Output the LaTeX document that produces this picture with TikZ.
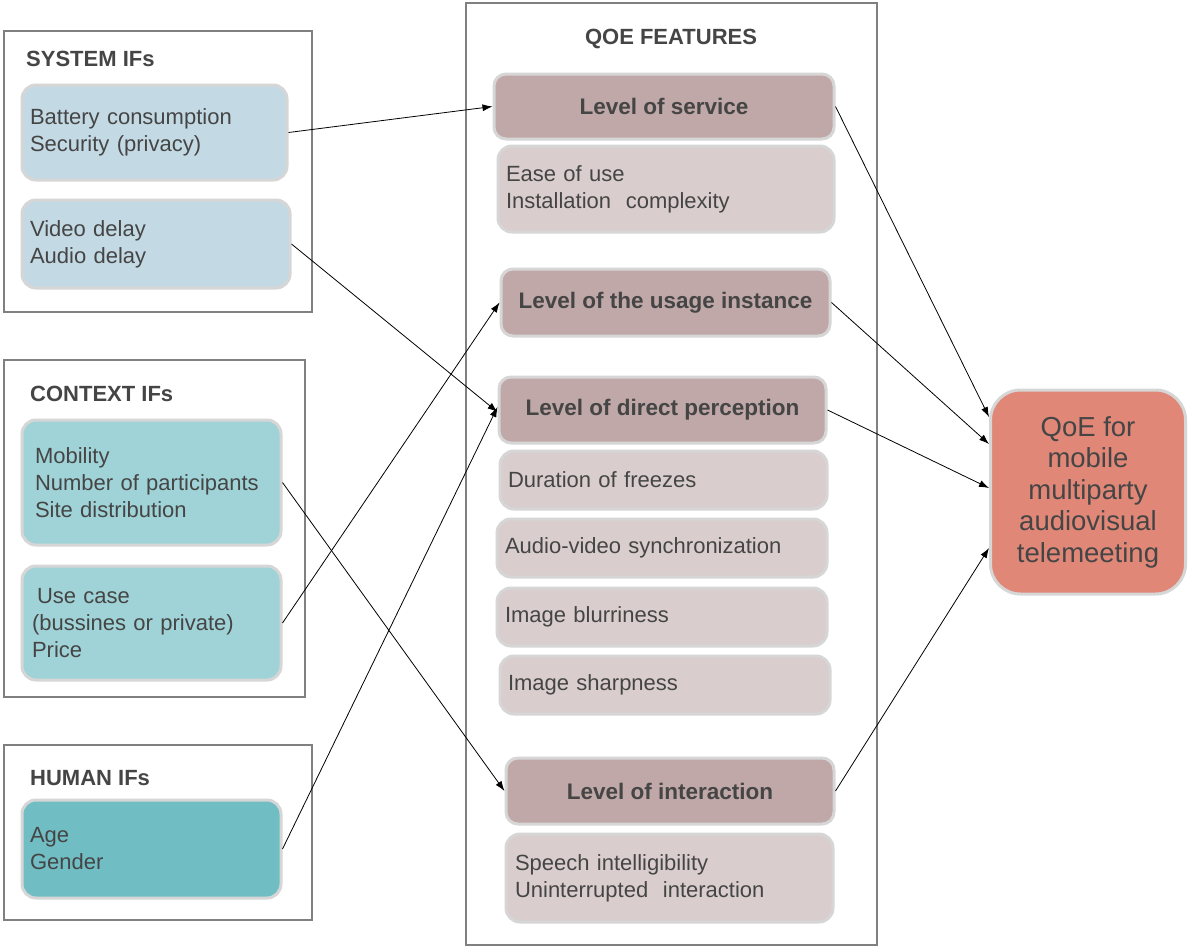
\documentclass[tikz,border=0pt]{standalone}
\usepackage{fontspec}
\setmainfont{Liberation Sans}
\usetikzlibrary{arrows.meta,calc}
\definecolor{sysblue}{HTML}{C3D9E4}
\definecolor{ctxteal}{HTML}{A0D3D7}
\definecolor{humteal}{HTML}{70BEC4}
\definecolor{darkmauve}{HTML}{BFA8A7}
\definecolor{lightmauve}{HTML}{D9CDCD}
\definecolor{qoesalmon}{HTML}{E08778}
\definecolor{ibord}{HTML}{D6D6D6}
\definecolor{obord}{HTML}{808080}
\definecolor{txt}{HTML}{454545}
\tikzset{
  outerbox/.style={draw=obord, line width=2pt, rectangle, inner sep=0pt},
  ibox/.style={draw=ibord, line width=3pt, rounded corners=14pt, rectangle,
    inner ysep=0pt, text=txt, align=left,
    font=\fontsize{22}{27}\selectfont},
  lvlbox/.style={draw=ibord, line width=3pt, rounded corners=12pt, rectangle,
    fill=darkmauve, text=txt, align=center, inner sep=0pt,
    font=\fontsize{22.5}{27}\selectfont\bfseries},
  grouptitle/.style={text=txt, inner sep=0pt, font=\fontsize{22}{26}\selectfont\bfseries},
  conn/.style={draw=black, line width=0.8pt, -{Latex[length=10pt,width=7pt]}}
}
\begin{document}
\begin{tikzpicture}[x=1pt,y=-1pt]
\useasboundingbox (0,0) rectangle (1188,948);
\fill[white] (0,0) rectangle (1188,948);

% outer group boxes
\node[outerbox, minimum width=308, minimum height=281] (sysg) at (158,171.5) {};
\node[outerbox, minimum width=301, minimum height=337] (ctxg) at (154.5,528.5) {};
\node[outerbox, minimum width=308, minimum height=175] (humg) at (158,832.5) {};
\node[outerbox, minimum width=411, minimum height=942] (qoeg) at (671.5,474) {};

% titles
\node[grouptitle, anchor=west] (syst) at (26,59) {SYSTEM IFs};
\node[grouptitle, anchor=west] (ctxt) at (30,394) {CONTEXT IFs};
\node[grouptitle, anchor=west] (humt) at (30,778) {HUMAN IFs};
\node[grouptitle] (qoet) at (671,39) {QOE FEATURES};

% left boxes
\node[ibox, fill=sysblue, minimum width=265, minimum height=95, inner xsep=8pt, text width=249] (bat) at (154.5,132.5) {Battery consumption\\Security (privacy)};
\node[ibox, fill=sysblue, minimum width=268, minimum height=88, inner xsep=8pt, text width=252] (vid) at (156,244) {Video delay\\Audio delay};
\node[ibox, fill=ctxteal, minimum width=259, minimum height=125, inner xsep=13pt, text width=233] (mob) at (151.5,482.5) {Mobility\\Number of participants\\Site distribution};
\node[ibox, fill=ctxteal, minimum width=259, minimum height=114, inner xsep=10pt, text width=239] (use) at (151.5,623) {\hspace*{5pt}Use case\\(bussines or private)\\Price};
\node[ibox, fill=humteal, minimum width=259, minimum height=98, inner xsep=8pt, text width=243] (age) at (151.5,849) {Age\\Gender};

% QoE features
\node[lvlbox, minimum width=340, minimum height=65] (los) at (664,106.5) {Level of service};
\node[ibox, fill=lightmauve, minimum width=336, minimum height=86, inner xsep=8pt, text width=320] (ease) at (666,189) {Ease of use\\Installation\ \ complexity};
\node[lvlbox, minimum width=329, minimum height=67] (lui) at (665.5,302.5) {Level of the usage instance};
\node[lvlbox, minimum width=327, minimum height=66] (ldp) at (662.5,410) {Level of direct perception};
\node[ibox, fill=lightmauve, minimum width=327, minimum height=58, inner xsep=8pt, text width=311] (dof) at (663.5,480) {Duration of freezes};
\node[ibox, fill=lightmauve, minimum width=330, minimum height=58, inner xsep=8pt, text width=314] (avs) at (662,548) {Audio-video synchronization};
\node[ibox, fill=lightmauve, minimum width=330, minimum height=58, inner xsep=8pt, text width=314] (ib) at (662,617) {Image blurriness};
\node[ibox, fill=lightmauve, minimum width=330, minimum height=58, inner xsep=8pt, text width=314] (ish) at (665,685) {Image sharpness};
\node[lvlbox, minimum width=328, minimum height=66] (loi) at (670,791) {Level of interaction};
\node[ibox, fill=lightmauve, minimum width=327, minimum height=88, inner xsep=9pt, text width=309] (sp) at (669.5,878) {Speech intelligibility\\Uninterrupted\ \ interaction};

% QoE target
\node[draw=ibord, line width=3pt, rounded corners=30pt, fill=qoesalmon, text=txt,
  minimum width=195, minimum height=204, align=center, inner sep=0pt,
  font=\fontsize{27.5}{31.5}\selectfont] (qoe) at (1088,492)
  {QoE for\\mobile\\multiparty\\audiovisual\\telemeeting};

% connectors
\draw[conn] (bat.east) -- (los.west);
\draw[conn] (vid.east) -- ([yshift=-2]ldp.west);
\draw[conn] (mob.east) -- (loi.west);
\draw[conn] (use.east) -- (lui.west);
\draw[conn] (age.east) -- ([yshift=3]ldp.west);
\draw[conn] (los.east) -- ($(qoe.west)+(0,-75)$);
\draw[conn] (lui.east) -- ($(qoe.west)+(0,-48)$);
\draw[conn] (ldp.east) -- ($(qoe.west)+(0,-4)$);
\draw[conn] (loi.east) -- ($(qoe.west)+(0,56)$);
\end{tikzpicture}
\end{document}
